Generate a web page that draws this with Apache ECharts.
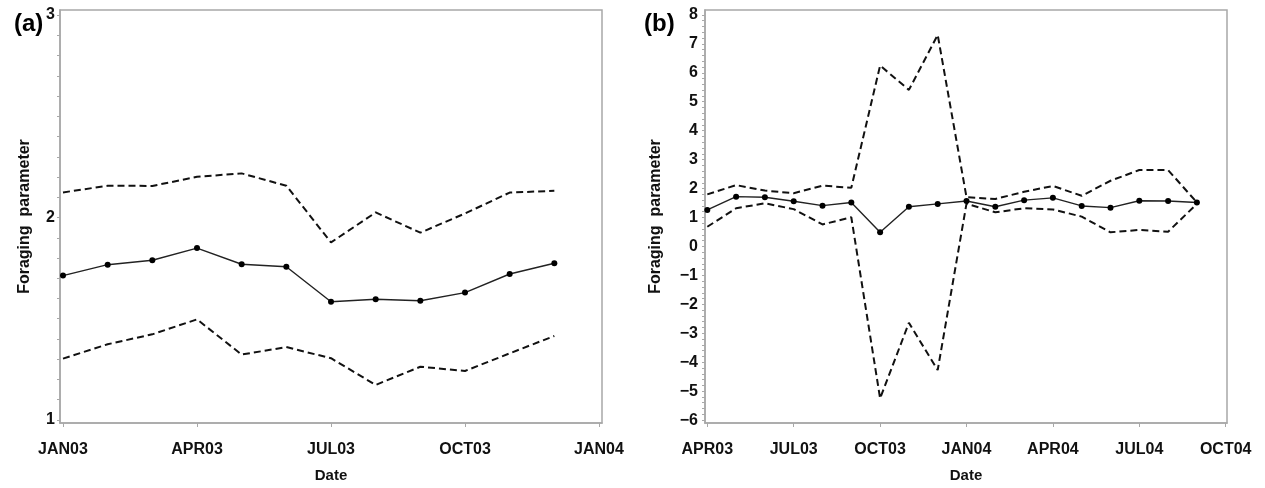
<!DOCTYPE html>
<html>
<head>
<meta charset="utf-8">
<script src="https://cdn.jsdelivr.net/npm/echarts@6/dist/echarts.min.js"></script>
<style>
  html, body { margin: 0; padding: 0; background: #fff; }
  #chart { width: 1265px; height: 488px; }
</style>
</head>
<body>
<div id="chart"></div>
<script>
// panel (a): monthly estimates 2003
const monthsA = ['2003-01', '2003-02', '2003-03', '2003-04', '2003-05', '2003-06',
  '2003-07', '2003-08', '2003-09', '2003-10', '2003-11', '2003-12']
const meanA = [1.713, 1.767, 1.789, 1.849, 1.769, 1.757, 1.584, 1.596, 1.589, 1.629, 1.721, 1.774]
const upperA = [2.124, 2.157, 2.156, 2.201, 2.218, 2.157, 1.877, 2.025, 1.925, 2.02, 2.123, 2.132]
const lowerA = [1.303, 1.374, 1.423, 1.497, 1.323, 1.360, 1.305, 1.173, 1.263, 1.242, 1.329, 1.415]
const xTicksA = ['2003-01', '2003-04', '2003-07', '2003-10', '2004-01']
const yLabelsA = [1, 2, 3]

// panel (b): monthly estimates Apr 2003 - Sep 2004
const monthsB = ['2003-04', '2003-05', '2003-06', '2003-07', '2003-08', '2003-09',
  '2003-10', '2003-11', '2003-12', '2004-01', '2004-02', '2004-03',
  '2004-04', '2004-05', '2004-06', '2004-07', '2004-08', '2004-09']
const meanB = [1.26, 1.72, 1.70, 1.56, 1.41, 1.52, 0.49, 1.37, 1.47, 1.57, 1.37, 1.60, 1.68, 1.40, 1.34, 1.58, 1.57, 1.52]
const upperB = [1.80, 2.12, 1.93, 1.84, 2.10, 2.03, 6.25, 5.41, 7.31, 1.70, 1.64, 1.89, 2.09, 1.75, 2.27, 2.64, 2.64, 1.52]
const lowerB = [0.68, 1.32, 1.49, 1.29, 0.76, 1.01, -5.25, -2.64, -4.27, 1.48, 1.18, 1.32, 1.28, 1.03, 0.49, 0.57, 0.51, 1.47]
const xTicksB = ['2003-04', '2003-07', '2003-10', '2004-01', '2004-04', '2004-07', '2004-10']
const yLabelsB = [-6, -5, -4, -3, -2, -1, 0, 1, 2, 3, 4, 5, 6, 7, 8]

const MON = ['JAN', 'FEB', 'MAR', 'APR', 'MAY', 'JUN', 'JUL', 'AUG', 'SEP', 'OCT', 'NOV', 'DEC']

function monthIndex(m, start) {
  const [y, mo] = m.split('-').map(Number)
  const [y0, m0] = start.split('-').map(Number)
  return (y - y0) * 12 + (mo - m0)
}
function monthLabel(idx, start) {
  const [y0, m0] = start.split('-').map(Number)
  const t = (m0 - 1) + idx
  const y = y0 + Math.floor(t / 12)
  return MON[t % 12] + String(y % 100).padStart(2, '0')
}
function steps(a, b, s) {
  const out = []
  for (let i = 0; a + i * s <= b + 1e-9; i++) out.push(+(a + i * s).toFixed(4))
  return out
}

const FONT = '"Liberation Sans", Arial, sans-serif'
const AXIS_GRAY = '#a8a8a8'
const startA = monthsA[0]
const startB = monthsB[0]

function xAxisFor(gridIndex, ticks, start, min, max) {
  const vals = ticks.map(t => monthIndex(t, start))
  return {
    type: 'value', gridIndex, min, max,
    name: 'Date', nameLocation: 'middle', nameGap: 45,
    nameTextStyle: { fontFamily: FONT, fontWeight: 'bold', fontSize: 15, color: '#111' },
    axisLine: { show: true, onZero: false, lineStyle: { color: AXIS_GRAY, width: 1.5 } },
    axisTick: { show: true, customValues: vals, length: 4, lineStyle: { color: AXIS_GRAY } },
    axisLabel: {
      customValues: vals, margin: 19,
      fontFamily: FONT, fontWeight: 'bold', fontSize: 16, color: '#111',
      formatter: v => monthLabel(Math.round(v), start)
    },
    splitLine: { show: false }
  }
}

function yAxisFor(gridIndex, labels, tickStep, min, max, nameGap, margin) {
  return {
    type: 'value', gridIndex, min, max,
    name: 'Foraging  parameter', nameLocation: 'middle', nameRotate: 90, nameGap,
    nameTextStyle: { fontFamily: FONT, fontWeight: 'bold', fontSize: 16, color: '#111' },
    axisLine: { show: true, onZero: false, lineStyle: { color: AXIS_GRAY, width: 1.5 } },
    axisTick: {
      show: true, customValues: steps(labels[0], labels[labels.length - 1], tickStep),
      length: 3, lineStyle: { color: AXIS_GRAY }
    },
    axisLabel: {
      customValues: labels, margin,
      fontFamily: FONT, fontWeight: 'bold', fontSize: 16, color: '#111',
      formatter: v => String(v).replace('-', '\u2212')
    },
    splitLine: { show: false }
  }
}

function series(idx, months, start, values, kind) {
  const data = months.map((m, i) => [monthIndex(m, start), values[i]])
  if (kind === 'mean') {
    return {
      type: 'line', xAxisIndex: idx, yAxisIndex: idx, data,
      symbol: 'circle', symbolSize: 6, showSymbol: true,
      lineStyle: { color: '#222', width: 1.4 },
      itemStyle: { color: '#000' }, z: 3
    }
  }
  return {
    type: 'line', xAxisIndex: idx, yAxisIndex: idx, data,
    symbol: 'none',
    lineStyle: { color: '#111', width: 2, type: [7, 4] }, z: 2
  }
}

const chart = echarts.init(document.getElementById('chart'))
chart.setOption({
  backgroundColor: '#fff',
  animation: false,
  title: [
    { text: '(a)', left: 9, top: 7, textStyle: { fontFamily: FONT, fontWeight: 'bold', fontSize: 24, color: '#000' } },
    { text: '(b)', left: 639, top: 7, textStyle: { fontFamily: FONT, fontWeight: 'bold', fontSize: 24, color: '#000' } }
  ],
  grid: [
    { left: 60, right: 663, top: 10, bottom: 65, show: true, borderColor: AXIS_GRAY, borderWidth: 1.5, backgroundColor: '#fff' },
    { left: 705, right: 38, top: 10, bottom: 65, show: true, borderColor: AXIS_GRAY, borderWidth: 1.5, backgroundColor: '#fff' }
  ],
  xAxis: [
    xAxisFor(0, xTicksA, startA, -0.067, 12.067),
    xAxisFor(1, xTicksB, startB, -0.08, 18.045)
  ],
  yAxis: [
    yAxisFor(0, yLabelsA, 0.1, 0.985, 3.025, 27, 5),
    yAxisFor(1, yLabelsB, 0.2, -6.10, 8.17, 41, 7)
  ],
  series: [
    series(0, monthsA, startA, upperA, 'band'),
    series(0, monthsA, startA, lowerA, 'band'),
    series(0, monthsA, startA, meanA, 'mean'),
    series(1, monthsB, startB, upperB, 'band'),
    series(1, monthsB, startB, lowerB, 'band'),
    series(1, monthsB, startB, meanB, 'mean')
  ]
})
window.addEventListener('resize', () => chart.resize())
</script>
</body>
</html>
